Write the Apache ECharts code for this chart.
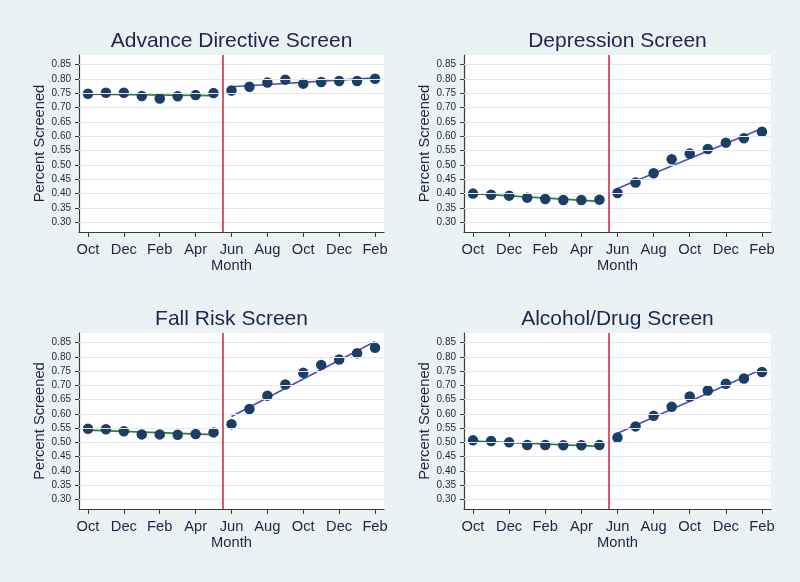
<!DOCTYPE html>
<html>
<head>
<meta charset="utf-8">
<script src="https://cdn.jsdelivr.net/npm/echarts@6/dist/echarts.min.js"></script>
<style>
html,body{margin:0;padding:0;background:#eaf2f3;}
#c{width:800px;height:582px;}
</style>
</head>
<body>
<div id="c"></div>
<script>
// ---- data ----
const monthLabels = ['Oct','Nov','Dec','Jan','Feb','Mar','Apr','May','Jun','Jul','Aug','Sep','Oct','Nov','Dec','Jan','Feb'];
const monthIndex = [0,1,2,3,4,5,6,7,8,9,10,11,12,13,14,15,16];
const xTickIndex = [0,2,4,6,8,10,12,14,16];
const yTicks = [0.30,0.35,0.40,0.45,0.50,0.55,0.60,0.65,0.70,0.75,0.80,0.85];
const interventionAt = 7.5;

const titles = ['Advance Directive Screen','Depression Screen','Fall Risk Screen','Alcohol/Drug Screen'];

const advanceDirective = [0.749,0.752,0.752,0.741,0.732,0.740,0.744,0.751,0.760,0.773,0.788,0.798,0.784,0.790,0.793,0.793,0.801];
const depression       = [0.400,0.396,0.393,0.386,0.381,0.378,0.378,0.379,0.402,0.439,0.471,0.520,0.540,0.556,0.578,0.593,0.616];
const fallRisk         = [0.548,0.546,0.539,0.528,0.528,0.527,0.529,0.535,0.564,0.617,0.664,0.703,0.744,0.772,0.791,0.813,0.832];
const alcoholDrug      = [0.507,0.505,0.500,0.491,0.491,0.490,0.490,0.491,0.517,0.556,0.593,0.625,0.661,0.682,0.706,0.724,0.747];

// fitted trend endpoints [start, end] for pre (Oct..May) and post (Jun..Feb)
const preFitX  = [0,7];
const postFitX = [8,16];
const preFit  = [[0.747,0.742],[0.400,0.373],[0.543,0.527],[0.505,0.486]];
const postFit = [[0.773,0.804],[0.418,0.627],[0.591,0.854],[0.532,0.757]];

const panelValues = [advanceDirective, depression, fallRisk, alcoholDrug];

// ---- layout ----
const grids = [
  {left:79, top:55, width:305, height:177},
  {left:464, top:55, width:307, height:177},
  {left:79, top:333, width:305, height:176},
  {left:464, top:333, width:307, height:176}
];
const FONT = 'Liberation Sans, Arial, sans-serif';
const txt = '#1c2444';

const option = {
  backgroundColor:'#eaf2f3',
  animation:false,
  title: grids.map((g,i)=>({
    text: titles[i],
    left: g.left + g.width/2,
    top: g.top - 24,
    textAlign:'center',
    padding:0,
    textStyle:{fontFamily:FONT,fontSize:21,fontWeight:'normal',color:'#1c2552'}
  })),
  grid: grids.map(g=>Object.assign({show:true,backgroundColor:'#ffffff',borderWidth:0},g)),
  xAxis: grids.map((g,i)=>({
    type:'value', gridIndex:i, min:-0.5, max:16.5,
    name:'Month', nameLocation:'middle', nameGap:26,
    nameTextStyle:{fontFamily:FONT,fontSize:14.7,color:txt},
    axisLine:{show:true,onZero:false,lineStyle:{color:'#3a3a3a',width:1.2}},
    axisTick:{show:true,length:5,customValues:xTickIndex,lineStyle:{color:'#3a3a3a'}},
    axisLabel:{customValues:xTickIndex,margin:10,fontFamily:FONT,fontSize:14.7,color:txt,
      formatter:v=>monthLabels[Math.round(v)]},
    splitLine:{show:false}
  })),
  yAxis: grids.map((g,i)=>({
    type:'value', gridIndex:i, min:0.266, max:0.884,
    name:'Percent Screened', nameLocation:'middle', nameGap:32,
    nameTextStyle:{fontFamily:FONT,fontSize:14.7,color:txt},
    axisLine:{show:true,onZero:false,lineStyle:{color:'#3a3a3a',width:1.2}},
    axisTick:{show:true,length:4,customValues:yTicks,lineStyle:{color:'#3a3a3a'}},
    axisLabel:{customValues:yTicks,margin:8,fontFamily:FONT,fontSize:10,color:txt,
      formatter:v=>v.toFixed(2)},
    splitLine:{show:false}
  })),
  series:[]
};

panelValues.forEach((vals,i)=>{
  // grid lines
  option.series.push({
    type:'line', xAxisIndex:i, yAxisIndex:i, data:[], z:1, silent:true,
    markLine:{silent:true,symbol:'none',label:{show:false},animation:false,
      lineStyle:{color:'#e3e8ec',width:1,type:'solid'},
      data: yTicks.map(t=>({yAxis:t}))}
  });
  // pre fit
  option.series.push({
    type:'line', xAxisIndex:i, yAxisIndex:i, z:2, symbol:'none',
    lineStyle:{color:'#2e7d3a',width:1.6},
    data: preFitX.map((x,k)=>[x,preFit[i][k]])
  });
  // post fit
  option.series.push({
    type:'line', xAxisIndex:i, yAxisIndex:i, z:2, symbol:'none',
    lineStyle:{color:'#4a4fc0',width:1.6},
    data: postFitX.map((x,k)=>[x,postFit[i][k]])
  });
  // points + intervention line
  option.series.push({
    type:'scatter', xAxisIndex:i, yAxisIndex:i, z:3, symbolSize:10.5,
    itemStyle:{color:'#1a3e66',opacity:1},
    data: monthIndex.map((x,k)=>[x,vals[k]]),
    markLine:{silent:true,symbol:'none',label:{show:false},animation:false,
      lineStyle:{color:'#d0304a',width:1.6,type:'solid'},
      data:[{xAxis:interventionAt}]}
  });
});

const chart = echarts.init(document.getElementById('c'),null,{renderer:'canvas'});
chart.setOption(option);
</script>
</body>
</html>
